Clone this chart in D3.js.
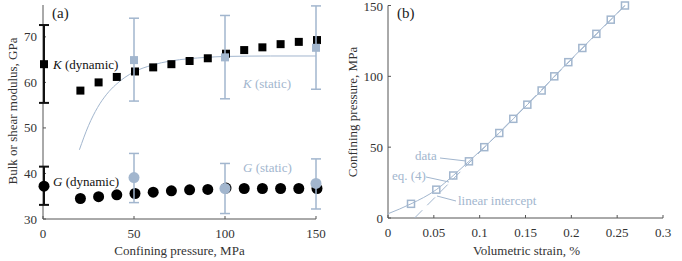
<!DOCTYPE html>
<html><head><meta charset="utf-8">
<script src="https://cdn.jsdelivr.net/npm/d3@7"></script>
<style>body{margin:0;background:#fff}svg{display:block;font-family:"Liberation Serif","Times New Roman",serif}</style>
</head><body><svg id="c" width="682" height="261"></svg>
<script>
// ---- Panel (a) data ----
const pressuresDyn = [20,30,40,50,60,70,80,90,100,110,120,130,140,150];
const kDynamic = [58.2,60,61.2,62.4,63.3,64,64.7,65.3,66.3,67.1,67.7,68.4,68.9,69.3];
const gDynamic = [34.5,34.9,35.3,35.6,35.9,36.2,36.4,36.5,36.8,36.7,36.7,36.7,36.7,36.7];
const kDyn0 = {p:0, v:64, lo:55.5, hi:72.6};
const gDyn0 = {p:0, v:37.2, lo:33.1, hi:41.5};
const pressuresStatic = [50,100,150];
const kStatic = [64.9,65.5,67.6];
const kStaticLo = [55.9,56.4,58.5];
const kStaticHi = [74.1,74.7,76.8];
const gStatic = [39.1,36.7,37.8];
const gStaticLo = [33.6,31.2,32.2];
const gStaticHi = [44.4,42.2,43.2];
const fitP = [20,25,30,35,40,45,50,60,70,80,90,100,125,150];
const fitK = [45.2,50.5,54.5,57.4,59.5,61.1,62.3,63.8,64.7,65.2,65.5,65.7,65.8,65.8];
const xTicksA = [0,50,100,150];
const yTicksA = [30,40,50,60,70];
// ---- Panel (b) data ----
const bPressure = [10,20,30,40,50,60,70,80,90,100,110,120,130,140,150];
const bStrain = [0.0251,0.0527,0.0712,0.0883,0.105,0.1214,0.1367,0.152,0.1676,0.1814,0.1967,0.212,0.2273,0.243,0.2585];
const eq4Strain = [0,0.0251,0.0527,0.0712,0.0883,0.105,0.1214,0.1367,0.152,0.1676,0.1814,0.1967,0.212,0.2273,0.243,0.2585];
const eq4Pressure = [3,10,20,30,40,50,60,70,80,90,100,110,120,130,140,150];
const linStrain = [0.029,0.2585];
const linPressure = [0,150];
const xTicksB = [0,0.05,0.1,0.15,0.2,0.25,0.3];
const yTicksB = [0,50,100,150];

const blue = "#a2b6ce", axisCol = "#555", fs = 13;
const svg = d3.select("#c");

// ---------- Panel (a) ----------
const xa = d3.scaleLinear().domain([0,150]).range([43,316]);
const ya = d3.scaleLinear().domain([30,77]).range([219,5]);
const ga = svg.append("g");
ga.append("line").attr("x1",xa(0)).attr("x2",xa(150)).attr("y1",ya(30)).attr("y2",ya(30)).attr("stroke",axisCol);
ga.append("line").attr("x1",xa(0)).attr("x2",xa(0)).attr("y1",ya(30)).attr("y2",ya(77)).attr("stroke",axisCol);
xTicksA.forEach(t=>{
  ga.append("line").attr("x1",xa(t)).attr("x2",xa(t)).attr("y1",ya(30)).attr("y2",ya(30)-3).attr("stroke",axisCol);
  ga.append("text").attr("x",xa(t)).attr("y",238).attr("text-anchor","middle").attr("font-size",fs).attr("fill","#333").text(t);
});
yTicksA.forEach(t=>{
  ga.append("line").attr("x1",xa(0)).attr("x2",xa(0)+3).attr("y1",ya(t)).attr("y2",ya(t)).attr("stroke",axisCol);
  ga.append("text").attr("x",37).attr("y",ya(t)+4.5).attr("text-anchor","end").attr("font-size",fs).attr("fill","#333").text(t);
});
ga.append("text").attr("x",(xa(0)+xa(150))/2).attr("y",255).attr("text-anchor","middle").attr("font-size",fs).attr("fill","#333").text("Confining pressure, MPa");
ga.append("text").attr("transform","translate(17,111) rotate(-90)").attr("text-anchor","middle").attr("font-size",fs).attr("fill","#333").text("Bulk or shear modulus, GPa");
ga.append("text").attr("x",52).attr("y",18).attr("font-size",15).attr("fill","#222").text("(a)");

// fit curve
ga.append("path").datum(fitP.map((p,i)=>[p,fitK[i]]))
  .attr("d",d3.line().x(d=>xa(d[0])).y(d=>ya(d[1])).curve(d3.curveMonotoneX))
  .attr("fill","none").attr("stroke",blue).attr("stroke-width",1);

function errBar(g,x,lo,hi,col,w,cap){
  g.append("line").attr("x1",x).attr("x2",x).attr("y1",lo).attr("y2",hi).attr("stroke",col).attr("stroke-width",w);
  [lo,hi].forEach(y=>g.append("line").attr("x1",x-cap).attr("x2",x+cap).attr("y1",y).attr("y2",y).attr("stroke",col).attr("stroke-width",w));
}
[kDyn0,gDyn0].forEach(d=>errBar(ga,xa(d.p)+1,ya(d.lo),ya(d.hi),"#111",2,5));
const sq = 8;
ga.selectAll(".kd").data([kDyn0.v].concat(kDynamic)).join("rect")
  .attr("x",(d,i)=>xa(i===0?0:pressuresDyn[i-1])-sq/2+1).attr("y",d=>ya(d)-sq/2)
  .attr("width",sq).attr("height",sq).attr("fill","#000");
ga.selectAll(".gd").data([gDyn0.v].concat(gDynamic)).join("circle")
  .attr("cx",(d,i)=>xa(i===0?0:pressuresDyn[i-1])+1).attr("cy",d=>ya(d)).attr("r",5.5).attr("fill","#000");
pressuresStatic.forEach((p,i)=>{
  errBar(ga,xa(p),ya(kStaticLo[i]),ya(kStaticHi[i]),blue,1.5,5);
  errBar(ga,xa(p),ya(gStaticLo[i]),ya(gStaticHi[i]),blue,1.5,5);
});
ga.selectAll(".ks").data(kStatic).join("rect")
  .attr("x",(d,i)=>xa(pressuresStatic[i])-sq/2).attr("y",d=>ya(d)-sq/2)
  .attr("width",sq).attr("height",sq).attr("fill",blue);
ga.selectAll(".gs").data(gStatic).join("circle")
  .attr("cx",(d,i)=>xa(pressuresStatic[i])).attr("cy",d=>ya(d)).attr("r",5.5).attr("fill",blue);
function lab(g,x,y,sym,rest,col){
  const t=g.append("text").attr("x",x).attr("y",y).attr("font-size",fs).attr("fill",col);
  t.append("tspan").attr("font-style","italic").text(sym);
  t.append("tspan").text(" "+rest);
}
lab(ga,53,69,"K","(dynamic)","#111");
lab(ga,53,186,"G","(dynamic)","#111");
lab(ga,243,88,"K","(static)",blue);
lab(ga,243,172,"G","(static)",blue);

// ---------- Panel (b) ----------
const xb = d3.scaleLinear().domain([0,0.3]).range([388,663]);
const yb = d3.scaleLinear().domain([0,150]).range([218,5.5]);
const gb = svg.append("g");
gb.append("line").attr("x1",xb(0)).attr("x2",xb(0.3)).attr("y1",yb(0)).attr("y2",yb(0)).attr("stroke",axisCol);
gb.append("line").attr("x1",xb(0)).attr("x2",xb(0)).attr("y1",yb(0)).attr("y2",yb(150)).attr("stroke",axisCol);
xTicksB.forEach(t=>{
  gb.append("line").attr("x1",xb(t)).attr("x2",xb(t)).attr("y1",yb(0)).attr("y2",yb(0)-3).attr("stroke",axisCol);
  gb.append("text").attr("x",xb(t)).attr("y",237).attr("text-anchor","middle").attr("font-size",fs).attr("fill","#333").text(t);
});
yTicksB.forEach(t=>{
  gb.append("line").attr("x1",xb(0)).attr("x2",xb(0)+3).attr("y1",yb(t)).attr("y2",yb(t)).attr("stroke",axisCol);
  gb.append("text").attr("x",383).attr("y",Math.max(yb(t)+4.5,11)).attr("text-anchor","end").attr("font-size",fs).attr("fill","#333").text(t);
});
gb.append("text").attr("x",(xb(0)+xb(0.3))/2+1).attr("y",255).attr("text-anchor","middle").attr("font-size",fs).attr("fill","#333").text("Volumetric strain, %");
gb.append("text").attr("transform","translate(357,112) rotate(-90)").attr("text-anchor","middle").attr("font-size",fs).attr("fill","#333").text("Confining pressure, MPa");
gb.append("text").attr("x",397).attr("y",18).attr("font-size",15).attr("fill","#222").text("(b)");

gb.append("path").datum(linStrain.map((s,i)=>[s,linPressure[i]]))
  .attr("d",d3.line().x(d=>xb(d[0])).y(d=>yb(d[1])))
  .attr("fill","none").attr("stroke",blue).attr("stroke-width",1).attr("stroke-dasharray","11,7");
gb.append("path").datum(eq4Strain.map((s,i)=>[s,eq4Pressure[i]]))
  .attr("d",d3.line().x(d=>xb(d[0])).y(d=>yb(d[1])).curve(d3.curveMonotoneX))
  .attr("fill","none").attr("stroke",blue).attr("stroke-width",1);
const sb = 7;
gb.selectAll(".bs").data(bStrain).join("rect")
  .attr("x",d=>xb(d)-sb/2).attr("y",(d,i)=>yb(bPressure[i])-sb/2)
  .attr("width",sb).attr("height",sb).attr("fill","none").attr("stroke",blue).attr("stroke-width",1.5);
function ann(tx,ty,txt,x1,y1,x2,y2){
  gb.append("text").attr("x",tx).attr("y",ty).attr("font-size",fs).attr("fill",blue).text(txt);
  gb.append("line").attr("x1",x1).attr("y1",y1).attr("x2",x2).attr("y2",y2).attr("stroke",blue).attr("stroke-width",1);
}
ann(415,160,"data",440,158,466,161);
ann(392,180,"eq. (4)",426,177,449,182);
ann(458,205,"linear intercept",456,201,437,196);
</script></body></html>
